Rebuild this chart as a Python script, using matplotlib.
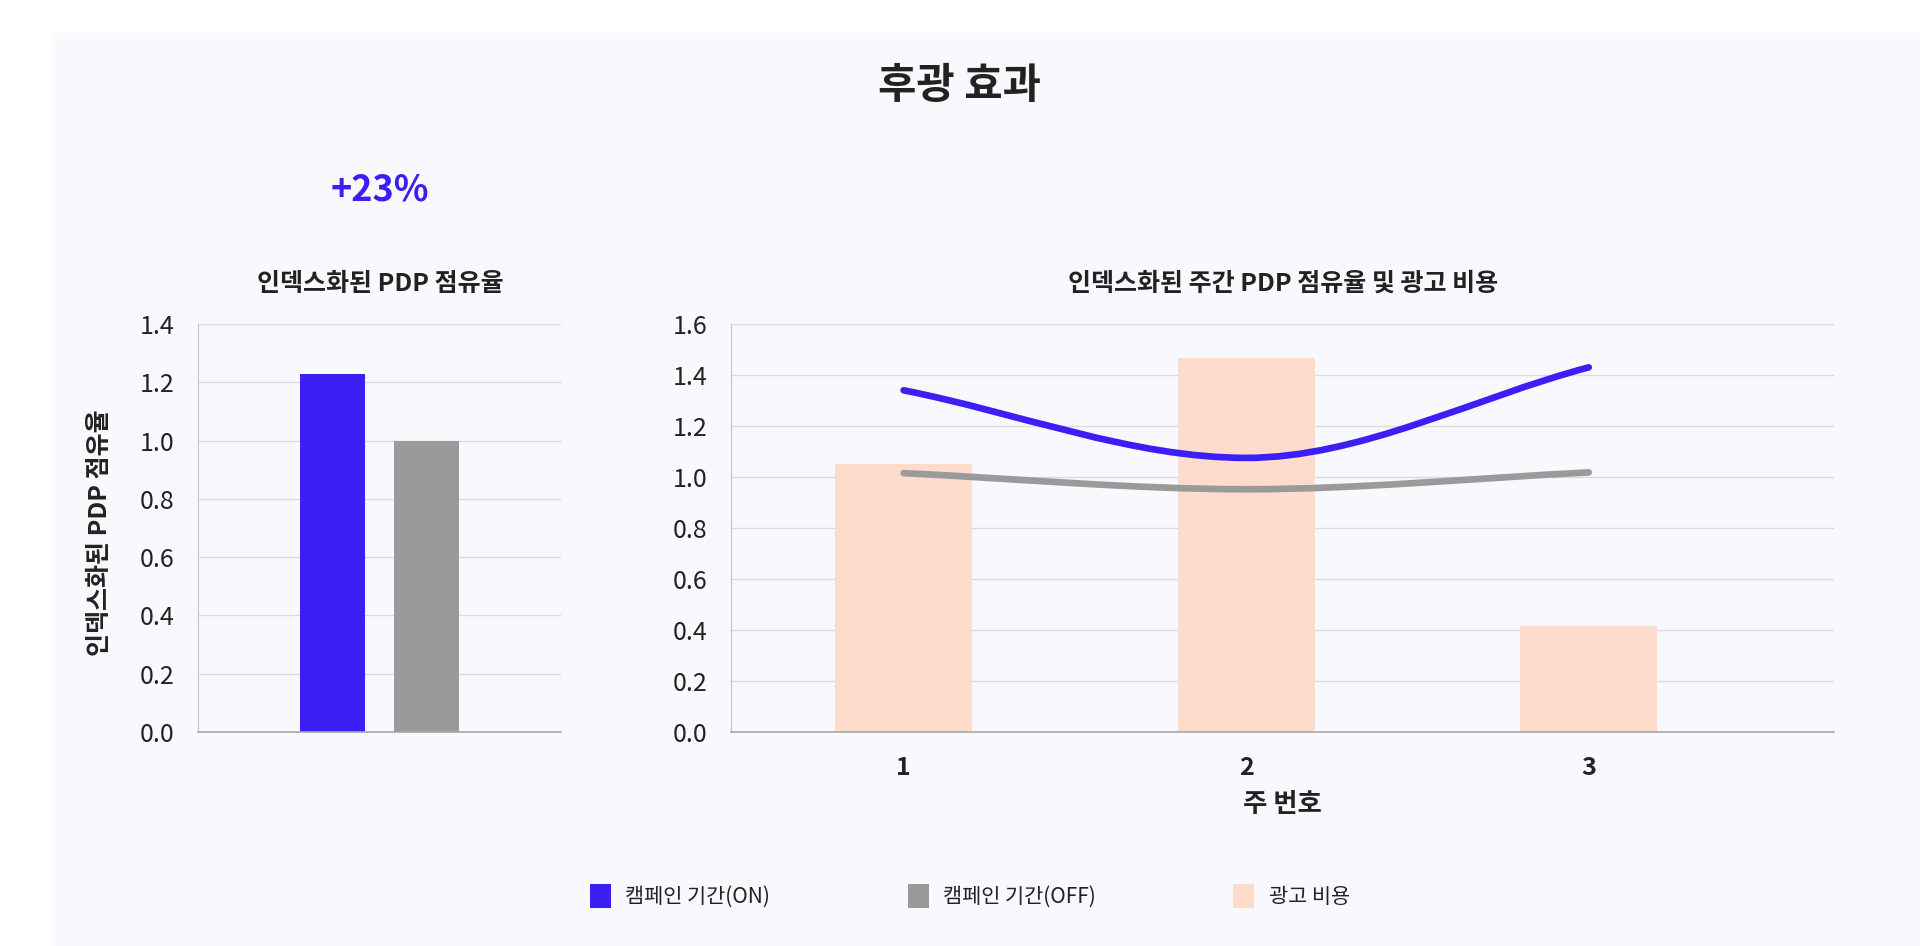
import numpy as np
import matplotlib
matplotlib.use("Agg")
from matplotlib import pyplot as plt
from matplotlib.patches import Rectangle, Patch, PathPatch
from matplotlib.path import Path

plt.rcParams['font.family'] = ['Noto Sans CJK KR', 'DejaVu Sans']

# left chart: indexed PDP share
share_labels = ["캠페인 기간(ON)", "캠페인 기간(OFF)"]
share_values = [1.23, 1.0]
uplift_text = "+23%"

# right chart: weekly indexed share and ad spend
weeks = [1, 2, 3]
weekly_on = [1.34, 1.075, 1.43]
weekly_off = [1.015, 0.952, 1.018]
ad_spend = [1.05, 1.465, 0.415]
spend_label = "광고 비용"

BLUE = "#3b1ff5"
GREY = "#9a9a9a"
PEACH = "#fedccb"
TEXT = "#222222"
GRID = "#dadadf"
SPINE = "#a8a8ac"


def monotone_path(xs, ys):
    # cubic bezier segments with monotone tangents (flat at local extrema)
    xs = np.asarray(xs, float)
    ys = np.asarray(ys, float)
    sec = np.diff(ys) / np.diff(xs)
    m = np.zeros_like(ys)
    m[0], m[-1] = sec[0], sec[-1]
    for i in range(1, len(ys) - 1):
        m[i] = 0.0 if sec[i - 1] * sec[i] <= 0 else (sec[i - 1] + sec[i]) / 2
    verts = [(xs[0], ys[0])]
    codes = [Path.MOVETO]
    for i in range(len(xs) - 1):
        dx = (xs[i + 1] - xs[i]) / 3
        verts += [(xs[i] + dx, ys[i] + m[i] * dx),
                  (xs[i + 1] - dx, ys[i + 1] - m[i + 1] * dx),
                  (xs[i + 1], ys[i + 1])]
        codes += [Path.CURVE4] * 3
    return Path(verts, codes)


def style_axes(ax, ymax):
    ax.set_facecolor("none")
    ax.set_ylim(0, ymax)
    ax.set_yticks(np.arange(0, ymax + 0.01, 0.2))
    ax.set_yticklabels([f"{t:.1f}" for t in np.arange(0, ymax + 0.01, 0.2)])
    ax.grid(axis="y", color=GRID, linewidth=1.0)
    ax.set_axisbelow(True)
    for s in ("top", "right"):
        ax.spines[s].set_visible(False)
    ax.spines["left"].set_color("#c4c4c8")
    ax.spines["bottom"].set_color(SPINE)
    ax.spines["bottom"].set_linewidth(1.2)
    ax.tick_params(axis="y", length=0, pad=17, labelsize=18, labelcolor=TEXT)
    for lab in ax.get_yticklabels():
        lab.set_fontweight("light")


fig = plt.figure(figsize=(19.2, 9.46), dpi=100)
fig.patch.set_facecolor("white")
fig.patches.append(Rectangle((52 / 1920, 0), 1, 1 - 33 / 946, transform=fig.transFigure,
                             facecolor="#f8f8fd", edgecolor="none", zorder=-5))

# left bars
ax1 = fig.add_axes([198 / 1920, 1 - 732 / 946, 363 / 1920, 408 / 946], zorder=2)
style_axes(ax1, 1.4)
ax1.bar([0, 1], share_values, width=0.69, color=[BLUE, GREY], zorder=2)
ax1.set_xlim(-1.42, 2.42)
ax1.set_xticks([])

# right combo
ax2 = fig.add_axes([731 / 1920, 1 - 732 / 946, 1103 / 1920, 408 / 946], zorder=2)
style_axes(ax2, 1.6)
ax2.bar(weeks, ad_spend, width=0.4, color=PEACH, zorder=2)
for series, col in ((weekly_off, GREY), (weekly_on, BLUE)):
    ax2.add_patch(PathPatch(monotone_path(weeks, series), facecolor="none", edgecolor=col,
                            linewidth=4.8, capstyle="round", zorder=3))
ax2.set_xlim(0.496, 3.716)
ax2.set_xticks(weeks)
ax2.set_xticklabels([str(w) for w in weeks])
ax2.tick_params(axis="x", length=0, pad=17, labelsize=18, labelcolor=TEXT)
for lab in ax2.get_xticklabels():
    lab.set_fontweight("bold")

# texts
fig.text(959 / 1920, 1 - 86 / 946, "후광 효과", ha="center", va="center",
         fontsize=30, fontweight="bold", color=TEXT)
fig.text(380 / 1920, 1 - 190 / 946, uplift_text, ha="center", va="center",
         fontsize=26, fontweight="bold", color=BLUE)
fig.text(380 / 1920, 1 - 284 / 946, "인덱스화된 PDP 점유율", ha="center", va="center",
         fontsize=18, fontweight="bold", color=TEXT)
fig.text(1283 / 1920, 1 - 284 / 946, "인덱스화된 주간 PDP 점유율 및 광고 비용", ha="center",
         va="center", fontsize=18, fontweight="bold", color=TEXT)
fig.text(100 / 1920, 1 - 533 / 946, "인덱스화된 PDP 점유율", ha="center", va="center",
         rotation=90, fontsize=18, fontweight="bold", color=TEXT)
fig.text(1282 / 1920, 1 - 804 / 946, "주 번호", ha="center", va="center",
         fontsize=19, fontweight="bold", color=TEXT)

handles = [Patch(facecolor=BLUE), Patch(facecolor=GREY), Patch(facecolor=PEACH)]
fig.legend(handles, share_labels + [spend_label], loc="center",
           bbox_to_anchor=(970 / 1920, 1 - 896 / 946), ncol=3, frameon=False,
           fontsize=15, handlelength=1.0, handleheight=1.35, handletextpad=0.7,
           columnspacing=6.6, labelcolor=TEXT)

fig.savefig("out.png", dpi=100)
